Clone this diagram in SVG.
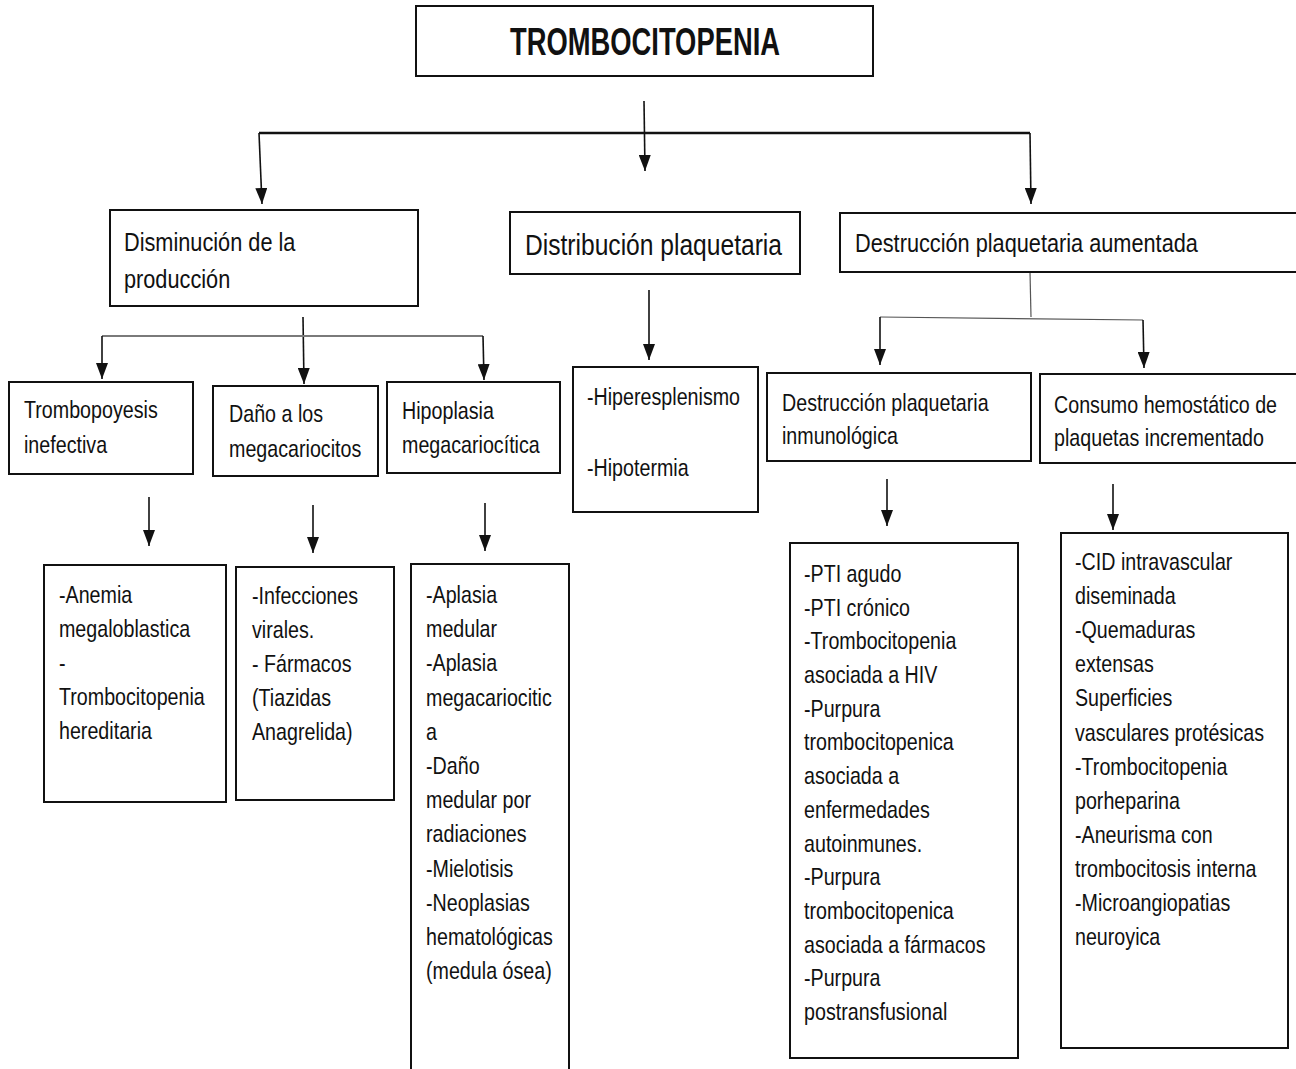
<svg xmlns="http://www.w3.org/2000/svg" width="1296" height="1069" viewBox="0 0 1296 1069">
<style>
  .box{fill:#fff;stroke:#111;stroke-width:2}
  .t{font-family:"Liberation Sans",Arial,sans-serif;font-size:24px;fill:#111}
  .ln{fill:none;stroke:#111;stroke-width:1.6}
  .gray{fill:none;stroke:#7a7a7a;stroke-width:2}
  .thin{fill:none;stroke:#555;stroke-width:1.2}
</style>
<defs>
  <marker id="ah" markerUnits="userSpaceOnUse" markerWidth="16" markerHeight="12" refX="16" refY="6" orient="auto">
    <path d="M0,0 L16,6 L0,12 z" fill="#111"/>
  </marker>
</defs>
<rect width="1296" height="1069" fill="#fff"/>

<g id="connectors">
  <line class="ln" x1="644" y1="101" x2="645" y2="171" marker-end="url(#ah)"/>
  <line x1="259" y1="133" x2="1030" y2="133" stroke="#111" stroke-width="2.6"/>
  <line class="ln" x1="259" y1="133" x2="262" y2="204" marker-end="url(#ah)"/>
  <line class="ln" x1="1030" y1="133" x2="1031" y2="204" marker-end="url(#ah)"/>

  <line class="ln" x1="303" y1="317" x2="304" y2="384" marker-end="url(#ah)"/>
  <line class="gray" x1="102" y1="336" x2="483" y2="336"/>
  <line class="ln" x1="102" y1="336" x2="102" y2="379" marker-end="url(#ah)"/>
  <line class="ln" x1="483" y1="336" x2="484" y2="380" marker-end="url(#ah)"/>

  <line class="ln" x1="649" y1="290" x2="649" y2="360" marker-end="url(#ah)"/>

  <line class="thin" x1="1030" y1="272" x2="1031" y2="317"/>
  <path class="thin" d="M880,317 L1143,320"/>
  <line class="ln" x1="880" y1="317" x2="880" y2="365" marker-end="url(#ah)"/>
  <line class="ln" x1="1143" y1="320" x2="1144" y2="368" marker-end="url(#ah)"/>

  <line class="ln" x1="149" y1="497" x2="149" y2="546" marker-end="url(#ah)"/>
  <line class="ln" x1="313" y1="505" x2="313" y2="553" marker-end="url(#ah)"/>
  <line class="ln" x1="485" y1="503" x2="485" y2="551" marker-end="url(#ah)"/>
  <line class="ln" x1="887" y1="479" x2="887" y2="526" marker-end="url(#ah)"/>
  <line class="ln" x1="1113" y1="484" x2="1113" y2="530" marker-end="url(#ah)"/>
</g>

<g id="n-trombocitopenia">
  <rect class="box" x="416" y="6" width="457" height="70" stroke-width="2.6"/>
  <text x="645" y="55" text-anchor="middle" font-family="Liberation Sans,Arial,sans-serif" font-weight="bold" font-size="38" fill="#111" textLength="270" lengthAdjust="spacingAndGlyphs">TROMBOCITOPENIA</text>
</g>

<g id="n-disminucion">
  <rect class="box" x="110" y="210" width="308" height="96"/>
  <text class="t" style="font-size:26.5px" transform="matrix(0.82 0 0 1 22.32 0)"><tspan x="124" y="251">Disminución  de la</tspan><tspan x="124" y="288">producción</tspan></text>
</g>

<g id="n-distribucion">
  <rect class="box" x="510" y="212" width="290" height="62"/>
  <text class="t" style="font-size:30px" transform="matrix(0.82 0 0 1 94.5 0)"><tspan x="525" y="255">Distribución  plaquetaria</tspan></text>
</g>

<g id="n-destruccion">
  <rect class="box" x="840" y="213" width="470" height="59"/>
  <text class="t" style="font-size:26.5px" transform="matrix(0.82 0 0 1 153.9 0)"><tspan x="855" y="252">Destrucción plaquetaria  aumentada</tspan></text>
</g>

<g id="n-trombopoyesis">
  <rect class="box" x="9" y="382" width="184" height="92"/>
  <text class="t" transform="matrix(0.82 0 0 1 4.32 0)"><tspan x="24" y="418">Trombopoyesis</tspan><tspan x="24" y="453">inefectiva</tspan></text>
</g>

<g id="n-dano">
  <rect class="box" x="213" y="386" width="165" height="90"/>
  <text class="t" transform="matrix(0.82 0 0 1 41.22 0)"><tspan x="229" y="422">Daño a los</tspan><tspan x="229" y="457">megacariocitos</tspan></text>
</g>

<g id="n-hipoplasia">
  <rect class="box" x="387" y="382" width="173" height="91"/>
  <text class="t" transform="matrix(0.82 0 0 1 72.36 0)"><tspan x="402" y="419">Hipoplasia</tspan><tspan x="402" y="453">megacariocítica</tspan></text>
</g>

<g id="n-hiperesplenismo">
  <rect class="box" x="573" y="367" width="185" height="145"/>
  <text class="t" transform="matrix(0.82 0 0 1 105.66 0)"><tspan x="587" y="405">-Hiperesplenismo</tspan><tspan x="587" y="476">-Hipotermia</tspan></text>
</g>

<g id="n-inmunologica">
  <rect class="box" x="767" y="373" width="264" height="88"/>
  <text class="t" transform="matrix(0.82 0 0 1 140.76 0)"><tspan x="782" y="411">Destrucción plaquetaria</tspan><tspan x="782" y="444">inmunológica</tspan></text>
</g>

<g id="n-consumo">
  <rect class="box" x="1040" y="374" width="270" height="89"/>
  <text class="t" transform="matrix(0.82 0 0 1 189.72 0)"><tspan x="1054" y="413">Consumo  hemostático de</tspan><tspan x="1054" y="446">plaquetas incrementado</tspan></text>
</g>

<g id="n-anemia">
  <rect class="box" x="44" y="565" width="182" height="237"/>
  <text class="t" transform="matrix(0.82 0 0 1 10.62 0)"><tspan x="59" y="603">-Anemia</tspan><tspan x="59" y="637">megaloblastica</tspan><tspan x="59" y="671">-</tspan><tspan x="59" y="705">Trombocitopenia</tspan><tspan x="59" y="739">hereditaria</tspan></text>
</g>

<g id="n-infecciones">
  <rect class="box" x="236" y="567" width="158" height="233"/>
  <text class="t" transform="matrix(0.82 0 0 1 45.36 0)"><tspan x="252" y="604">-Infecciones</tspan><tspan x="252" y="638">virales.</tspan><tspan x="252" y="672">- Fármacos</tspan><tspan x="252" y="706">(Tiazidas</tspan><tspan x="252" y="740">Anagrelida)</tspan></text>
</g>

<g id="n-aplasia">
  <rect class="box" x="411" y="564" width="158" height="520"/>
  <text class="t" transform="matrix(0.82 0 0 1 76.68 0)"><tspan x="426" y="603">-Aplasia</tspan><tspan x="426" y="637">medular</tspan><tspan x="426" y="671">-Aplasia</tspan><tspan x="426" y="706">megacariocitic</tspan><tspan x="426" y="740">a</tspan><tspan x="426" y="774">-Daño</tspan><tspan x="426" y="808">medular por</tspan><tspan x="426" y="842">radiaciones</tspan><tspan x="426" y="877">-Mielotisis</tspan><tspan x="426" y="911">-Neoplasias</tspan><tspan x="426" y="945">hematológicas</tspan><tspan x="426" y="979">(medula  ósea)</tspan></text>
</g>

<g id="n-pti">
  <rect class="box" x="790" y="543" width="228" height="515"/>
  <text class="t" transform="matrix(0.82 0 0 1 144.72 0)"><tspan x="804" y="582">-PTI agudo</tspan><tspan x="804" y="616">-PTI crónico</tspan><tspan x="804" y="649">-Trombocitopenia</tspan><tspan x="804" y="683">asociada a HIV</tspan><tspan x="804" y="717">-Purpura</tspan><tspan x="804" y="750">trombocitopenica</tspan><tspan x="804" y="784">asociada a</tspan><tspan x="804" y="818">enfermedades</tspan><tspan x="804" y="852">autoinmunes.</tspan><tspan x="804" y="885">-Purpura</tspan><tspan x="804" y="919">trombocitopenica</tspan><tspan x="804" y="953">asociada a fármacos</tspan><tspan x="804" y="986">-Purpura</tspan><tspan x="804" y="1020">postransfusional</tspan></text>
</g>

<g id="n-cid">
  <rect class="box" x="1061" y="533" width="227" height="515"/>
  <text class="t" transform="matrix(0.82 0 0 1 193.5 0)"><tspan x="1075" y="570">-CID intravascular</tspan><tspan x="1075" y="604">diseminada</tspan><tspan x="1075" y="638">-Quemaduras</tspan><tspan x="1075" y="672">extensas</tspan><tspan x="1075" y="706">Superficies</tspan><tspan x="1075" y="741">vasculares protésicas</tspan><tspan x="1075" y="775">-Trombocitopenia</tspan><tspan x="1075" y="809">porheparina</tspan><tspan x="1075" y="843">-Aneurisma  con</tspan><tspan x="1075" y="877">trombocitosis interna</tspan><tspan x="1075" y="911">-Microangiopatias</tspan><tspan x="1075" y="945">neuroyica</tspan></text>
</g>
</svg>
